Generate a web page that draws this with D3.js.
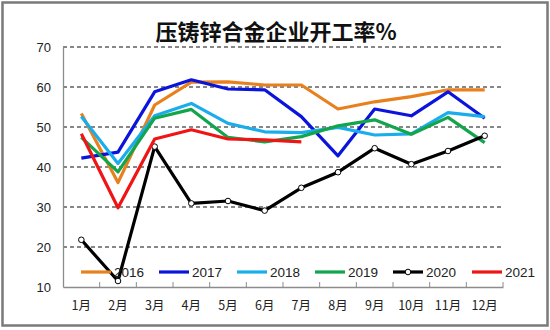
<!DOCTYPE html>
<html><head><meta charset="utf-8">
<script src="https://cdn.jsdelivr.net/npm/d3@7"></script>
<style>body{margin:0;background:#fff}svg{display:block}</style>
</head><body><svg id="c" width="550" height="330"></svg>
<script>
const months = ["1月","2月","3月","4月","5月","6月","7月","8月","9月","10月","11月","12月"];
const yTicks = [10,20,30,40,50,60,70];
const s2016 = [53.4,36.1,55.5,61.2,61.3,60.5,60.5,54.5,56.3,57.6,59.3,59.3];
const s2017 = [42.2,43.7,58.8,61.8,59.5,59.3,52.6,42.8,54.5,52.8,58.8,52.2];
const s2018 = [52.6,40.9,52.8,55.9,50.9,48.8,48.6,49.9,48.0,48.3,53.6,52.6];
const s2019 = [47.4,38.8,52.2,54.4,47.4,46.3,47.6,50.3,51.8,48.2,52.4,46.1];
const s2020 = [21.8,11.5,45.1,30.9,31.5,29.1,34.8,38.7,44.7,40.7,44.0,47.8];
const s2021 = [48.3,29.8,47.0,49.3,47.0,46.8,46.3];
const seriesNames = ["2016","2017","2018","2019","2020","2021"];
const seriesColors = ["#E8801E","#0A14DC","#1AADEB","#12A54C","#000000","#F01414"];
const seriesData = [s2016,s2017,s2018,s2019,s2020,s2021];

const svg = d3.select("#c");
svg.append("rect").attr("x",2.5).attr("y",2.5).attr("width",545).attr("height",323)
  .attr("fill","#fff").attr("stroke","#7a7a7a").attr("stroke-width",2.5);

const L=63,R=503,T=47,B=287;
const x = d3.scaleBand().domain(months).range([L,R]);
const y = d3.scaleLinear().domain([10,70]).range([B,T]);

svg.append("text").attr("x",276).attr("y",40).attr("text-anchor","middle")
  .attr("font-family","'Noto Sans CJK SC'").attr("font-weight",700).attr("font-size",22)
  .attr("fill","#111").text("压铸锌合金企业开工率%");

// grid
svg.append("g").selectAll("line").data(yTicks.filter(d=>d>10)).join("line")
  .attr("x1",L).attr("x2",R).attr("y1",d=>y(d)).attr("y2",d=>y(d))
  .attr("stroke","#111").attr("stroke-width",1.1).attr("stroke-dasharray","4,3");

// y axis
const ya = svg.append("g").attr("transform",`translate(${L},0)`)
  .call(d3.axisLeft(y).tickValues(yTicks).tickSize(0).tickPadding(12));
ya.select(".domain").attr("stroke","#8c8c8c").attr("stroke-width",1.3);
ya.selectAll("text").attr("font-family","'Liberation Sans',Arial").attr("font-size",13).attr("fill","#222");

// x axis
const xa = svg.append("g").attr("transform",`translate(0,${B})`)
  .call(d3.axisBottom(x).tickSize(0).tickPadding(14));
xa.select(".domain").attr("stroke","#8c8c8c").attr("stroke-width",1.3);
xa.selectAll("text").attr("font-family","'Noto Sans CJK SC'").attr("font-size",12.5).attr("fill","#222");
const bounds = months.map(m=>x(m)).concat([R]).slice(1);
svg.append("g").selectAll("line").data(bounds).join("line")
  .attr("x1",d=>d).attr("x2",d=>d).attr("y1",B).attr("y2",B-5)
  .attr("stroke","#8c8c8c").attr("stroke-width",1);

const cx = i => x(months[i]) + x.bandwidth()/2;
const line = d3.line().x((d,i)=>cx(i)).y(d=>y(d));

seriesData.forEach((arr,k)=>{
  svg.append("path").datum(arr).attr("d",line).attr("fill","none")
    .attr("stroke",seriesColors[k]).attr("stroke-width",3.2).attr("stroke-linejoin","round");
  if(seriesNames[k]==="2020"){
    svg.append("g").selectAll("circle").data(arr).join("circle")
      .attr("cx",(d,i)=>cx(i)).attr("cy",d=>y(d)).attr("r",2.8)
      .attr("fill","#fff").attr("stroke","#000").attr("stroke-width",1);
  }
});

// legend
const legX = [81,159,237,315,393,472];
const lg = svg.append("g").selectAll("g").data(seriesNames).join("g")
  .attr("transform",(d,i)=>`translate(${legX[i]},272)`);
lg.append("line").attr("x1",0).attr("x2",30).attr("y1",0).attr("y2",0)
  .attr("stroke",(d,i)=>seriesColors[i]).attr("stroke-width",3.2);
lg.filter(d=>d==="2020").append("circle").attr("cx",15).attr("cy",0).attr("r",2.8)
  .attr("fill","#fff").attr("stroke","#000").attr("stroke-width",1);
lg.append("text").attr("x",33).attr("y",5).text(d=>d)
  .attr("font-family","'Liberation Sans',Arial").attr("font-size",13.5).attr("fill","#222");
</script></body></html>
